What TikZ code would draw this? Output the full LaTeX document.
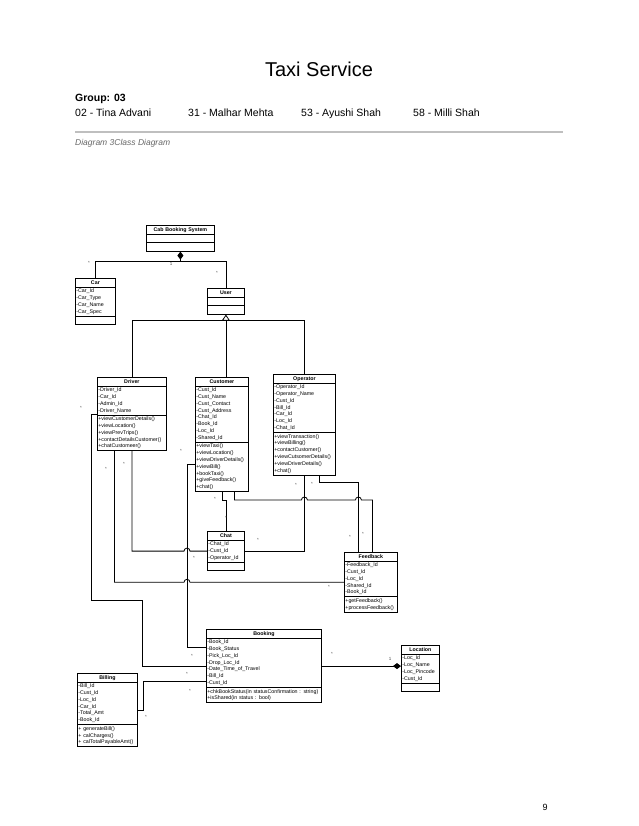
\documentclass[tikz,border=0pt]{standalone}
\usepackage{fontspec}
\setmainfont{Liberation Sans}
\usetikzlibrary{arrows.meta,shapes.multipart}

\newcommand{\classfont}{\fontsize{5.3}{6.8}\selectfont}
\newcommand{\classname}[1]{\hbox to \hsize{\hss\strut\textbf{#1}\hss}}

\begin{document}
\begin{tikzpicture}[x=1pt,y=-1pt,
            umlclass/.style={draw, rectangle split, rectangle split parts=3, anchor=north west,
                 inner xsep=1pt, inner ysep=0.5pt, align=left, font=\classfont, line width=0.8pt, fill=white},
            assoc/.style={line width=0.8pt},
            comp/.style={assoc, {Diamond[length=8pt,width=6pt]}-},
            gen/.style={assoc, -{Triangle[open,length=6pt,width=8pt]}},
            mult/.style={font=\fontsize{4.5}{4.5}\selectfont, inner sep=0pt, text=black!70}
            ]
            \useasboundingbox (0,0) rectangle (638,826);

            % Page header
            \node[anchor=base, font=\fontsize{20}{24}\selectfont] (title) at (319,77) {Taxi Service};
            \node[anchor=base west, font=\fontsize{10.5}{12}\selectfont\bfseries, inner sep=0pt] (group) at (75,102) {Group: 03};
            \node[anchor=base west, font=\fontsize{10.5}{12}\selectfont, inner sep=0pt] (mem1) at (75,117) {02 - Tina Advani};
            \node[anchor=base west, font=\fontsize{10.5}{12}\selectfont, inner sep=0pt] (mem2) at (188,117) {31 - Malhar Mehta};
            \node[anchor=base west, font=\fontsize{10.5}{12}\selectfont, inner sep=0pt] (mem3) at (301,117) {53 - Ayushi Shah};
            \node[anchor=base west, font=\fontsize{10.5}{12}\selectfont, inner sep=0pt] (mem4) at (413,117) {58 - Milli Shah};
            \draw[black!25, line width=1.2pt] (75,132) -- (563,132);
            \node[anchor=base west, font=\fontsize{8.5}{10}\selectfont\itshape, text=black!60, inner sep=0pt] (caption) at (75,146) {Diagram 3Class Diagram};
            \node[anchor=base, font=\fontsize{9}{10}\selectfont] (pagenum) at (545,810) {9};

            % Classes with manual coordinates
            \node[umlclass, text width=66pt] (cab) at (146,225)
                 {\classname{Cab Booking System}\nodepart{two}\strut\nodepart{three}\strut};
            \node[umlclass, text width=38pt] (car) at (75,278)
                 {\classname{Car}\nodepart{two}\strut-Car\_Id\\-Car\_Type\\-Car\_Name\\-Car\_Spec\strut\nodepart{three}\strut};
            \node[umlclass, text width=35pt] (user) at (207,288)
                 {\classname{User}\nodepart{two}\strut\nodepart{three}\strut};
            \node[umlclass, text width=67pt] (driver) at (97,377)
                 {\classname{Driver}\nodepart{two}\strut-Driver\_Id\\-Car\_Id\\-Admin\_Id\\-Driver\_Name\strut
                  \nodepart{three}\strut+viewCustomerDetails()\\+viewLocation()\\+viewPrevTrips()\\+contactDetailsCustomer()\\+chatCustomeer()\strut};
            \node[umlclass, text width=51pt] (customer) at (195,377)
                 {\classname{Customer}\nodepart{two}\strut-Cust\_Id\\-Cust\_Name\\-Cust\_Contact\\-Cust\_Address\\-Chat\_Id\\-Book\_Id\\-Loc\_Id\\-Shared\_Id\strut
                  \nodepart{three}\strut+viewTaxi()\\+viewLocation()\\+viewDriverDetails()\\+viewBill()\\+bookTaxi()\\+giveFeedback()\\+chat()\strut};
            \node[umlclass, text width=60pt] (operator) at (273,374)
                 {\classname{Operator}\nodepart{two}\strut-Operator\_Id\\-Operator\_Name\\-Cust\_Id\\-Bill\_Id\\-Car\_Id\\-Loc\_Id\\-Chat\_Id\strut
                  \nodepart{three}\strut+viewTransaction()\\+viewBilling()\\+contactCustomer()\\+viewCutsomerDetails()\\+viewDriverDetails()\\+chat()\strut};
            \node[umlclass, text width=35pt] (chat) at (207,531)
                 {\classname{Chat}\nodepart{two}\strut-Chat\_Id\\-Cust\_Id\\-Operator\_Id\strut\nodepart{three}\strut};
            \node[umlclass, text width=51pt] (feedback) at (344,552)
                 {\classname{Feedback}\nodepart{two}\strut-Feedback\_Id\\-Cust\_Id\\-Loc\_Id\\-Shared\_Id\\-Book\_Id\strut
                  \nodepart{three}\strut+getFeedback()\\+processFeedback()\strut};
            \node[umlclass, text width=113pt] (booking) at (206,629)
                 {\classname{Booking}\nodepart{two}\strut-Book\_Id\\-Book\_Status\\-Pick\_Loc\_Id\\-Drop\_Loc\_Id\\-Date\_Time\_of\_Travel\\-Bill\_Id\\-Cust\_Id\strut
                  \nodepart{three}\strut+chkBookStatus(in statusConfirmation : string)\\+isShared(in status : bool)\strut};
            \node[umlclass, text width=58pt] (billing) at (77,673)
                 {\classname{Billing}\nodepart{two}\strut-Bill\_Id\\-Cust\_Id\\-Loc\_Id\\-Car\_Id\\-Total\_Amt\\-Book\_Id\strut
                  \nodepart{three}\strut+ generateBill()\\+ calCharges()\\+ calTotalPayableAmt()\strut};
            \node[umlclass, text width=36pt] (location) at (401,645)
                 {\classname{Location}\nodepart{two}\strut-Loc\_Id\\-Loc\_Name\\-Loc\_Pincode\\-Cust\_Id\strut\nodepart{three}\strut};

            % Composition and generalisation
            \draw[comp] (cab.south) -- ++(0,10) -| (car.north);
            \draw[assoc] (cab.south) ++(0,10) -| (user.north);
            \coordinate (genjoin) at ([yshift=-6pt]user.south);
            \draw[assoc] (driver.north) |- (genjoin);
            \draw[assoc] (operator.north) |- (genjoin);
            \draw[gen] (customer.north -| genjoin) -- (user.south);

            % Associations
            \draw[assoc] (driver.west) -- ++(-6,0) -- ++(0,186) -- ++(51,0) |- (booking.west);
            \draw[assoc] ([yshift=28pt]customer.south west) -- ++(-8,0) |- ([yshift=-18pt]booking.north west);
            \draw[assoc] (driver.south) |- ([xshift=-23pt]chat.west) arc[start angle=180,end angle=0,radius=3pt] -- (chat.west);
            \draw[assoc] ([xshift=-17.5pt]driver.south) |- ([xshift=-160pt]feedback.west) arc[start angle=180,end angle=0,radius=3pt] -- (feedback.west);
            \draw[assoc] (customer.south) -- ++(0,8) -| (chat.north);
            \draw[assoc] ([xshift=12.5pt]customer.south) -- ++(0,8) -- ++(67,0) arc[start angle=180,end angle=0,radius=3pt]
                 -- ++(48,0) arc[start angle=180,end angle=0,radius=3pt] -| ([xshift=1.5pt]feedback.north);
            \draw[assoc] (operator.south) |- (chat.east);
            \draw[assoc] ([xshift=15pt]operator.south) -- ++(0,7) -| ([xshift=-12.5pt]feedback.north);
            \draw[assoc] (billing.east) -- ++(6,0) |- ([yshift=-52pt]booking.north west);
            \draw[assoc, -{Diamond[length=8pt,width=6pt]}] (booking.east) -- (booking.east -| location.west);

            % Multiplicities
            \node[mult] (one1) at (171,264) {1};
            \node[mult] (one2) at (390,659) {1};
            \node[mult] (m1) at (89,263) {*};
            \node[mult] (m2) at (217,273) {*};
            \node[mult] (m3) at (81,408) {*};
            \node[mult] (m4) at (106,469) {*};
            \node[mult] (m5) at (124,464) {*};
            \node[mult] (m6) at (181,451) {*};
            \node[mult] (m7) at (215,499) {*};
            \node[mult] (m8) at (226,518) {*};
            \node[mult] (m9) at (258,540) {*};
            \node[mult] (m10) at (296,485) {*};
            \node[mult] (m11) at (312,484) {*};
            \node[mult] (m12) at (350,537) {*};
            \node[mult] (m13) at (363,534) {*};
            \node[mult] (m14) at (329,587) {*};
            \node[mult] (m15) at (194,558) {*};
            \node[mult] (m16) at (192,656) {*};
            \node[mult] (m17) at (332,654) {*};
            \node[mult] (m18) at (187,674) {*};
            \node[mult] (m19) at (190,691) {*};
            \node[mult] (m20) at (146,717) {*};
        \end{tikzpicture}
\end{document}
